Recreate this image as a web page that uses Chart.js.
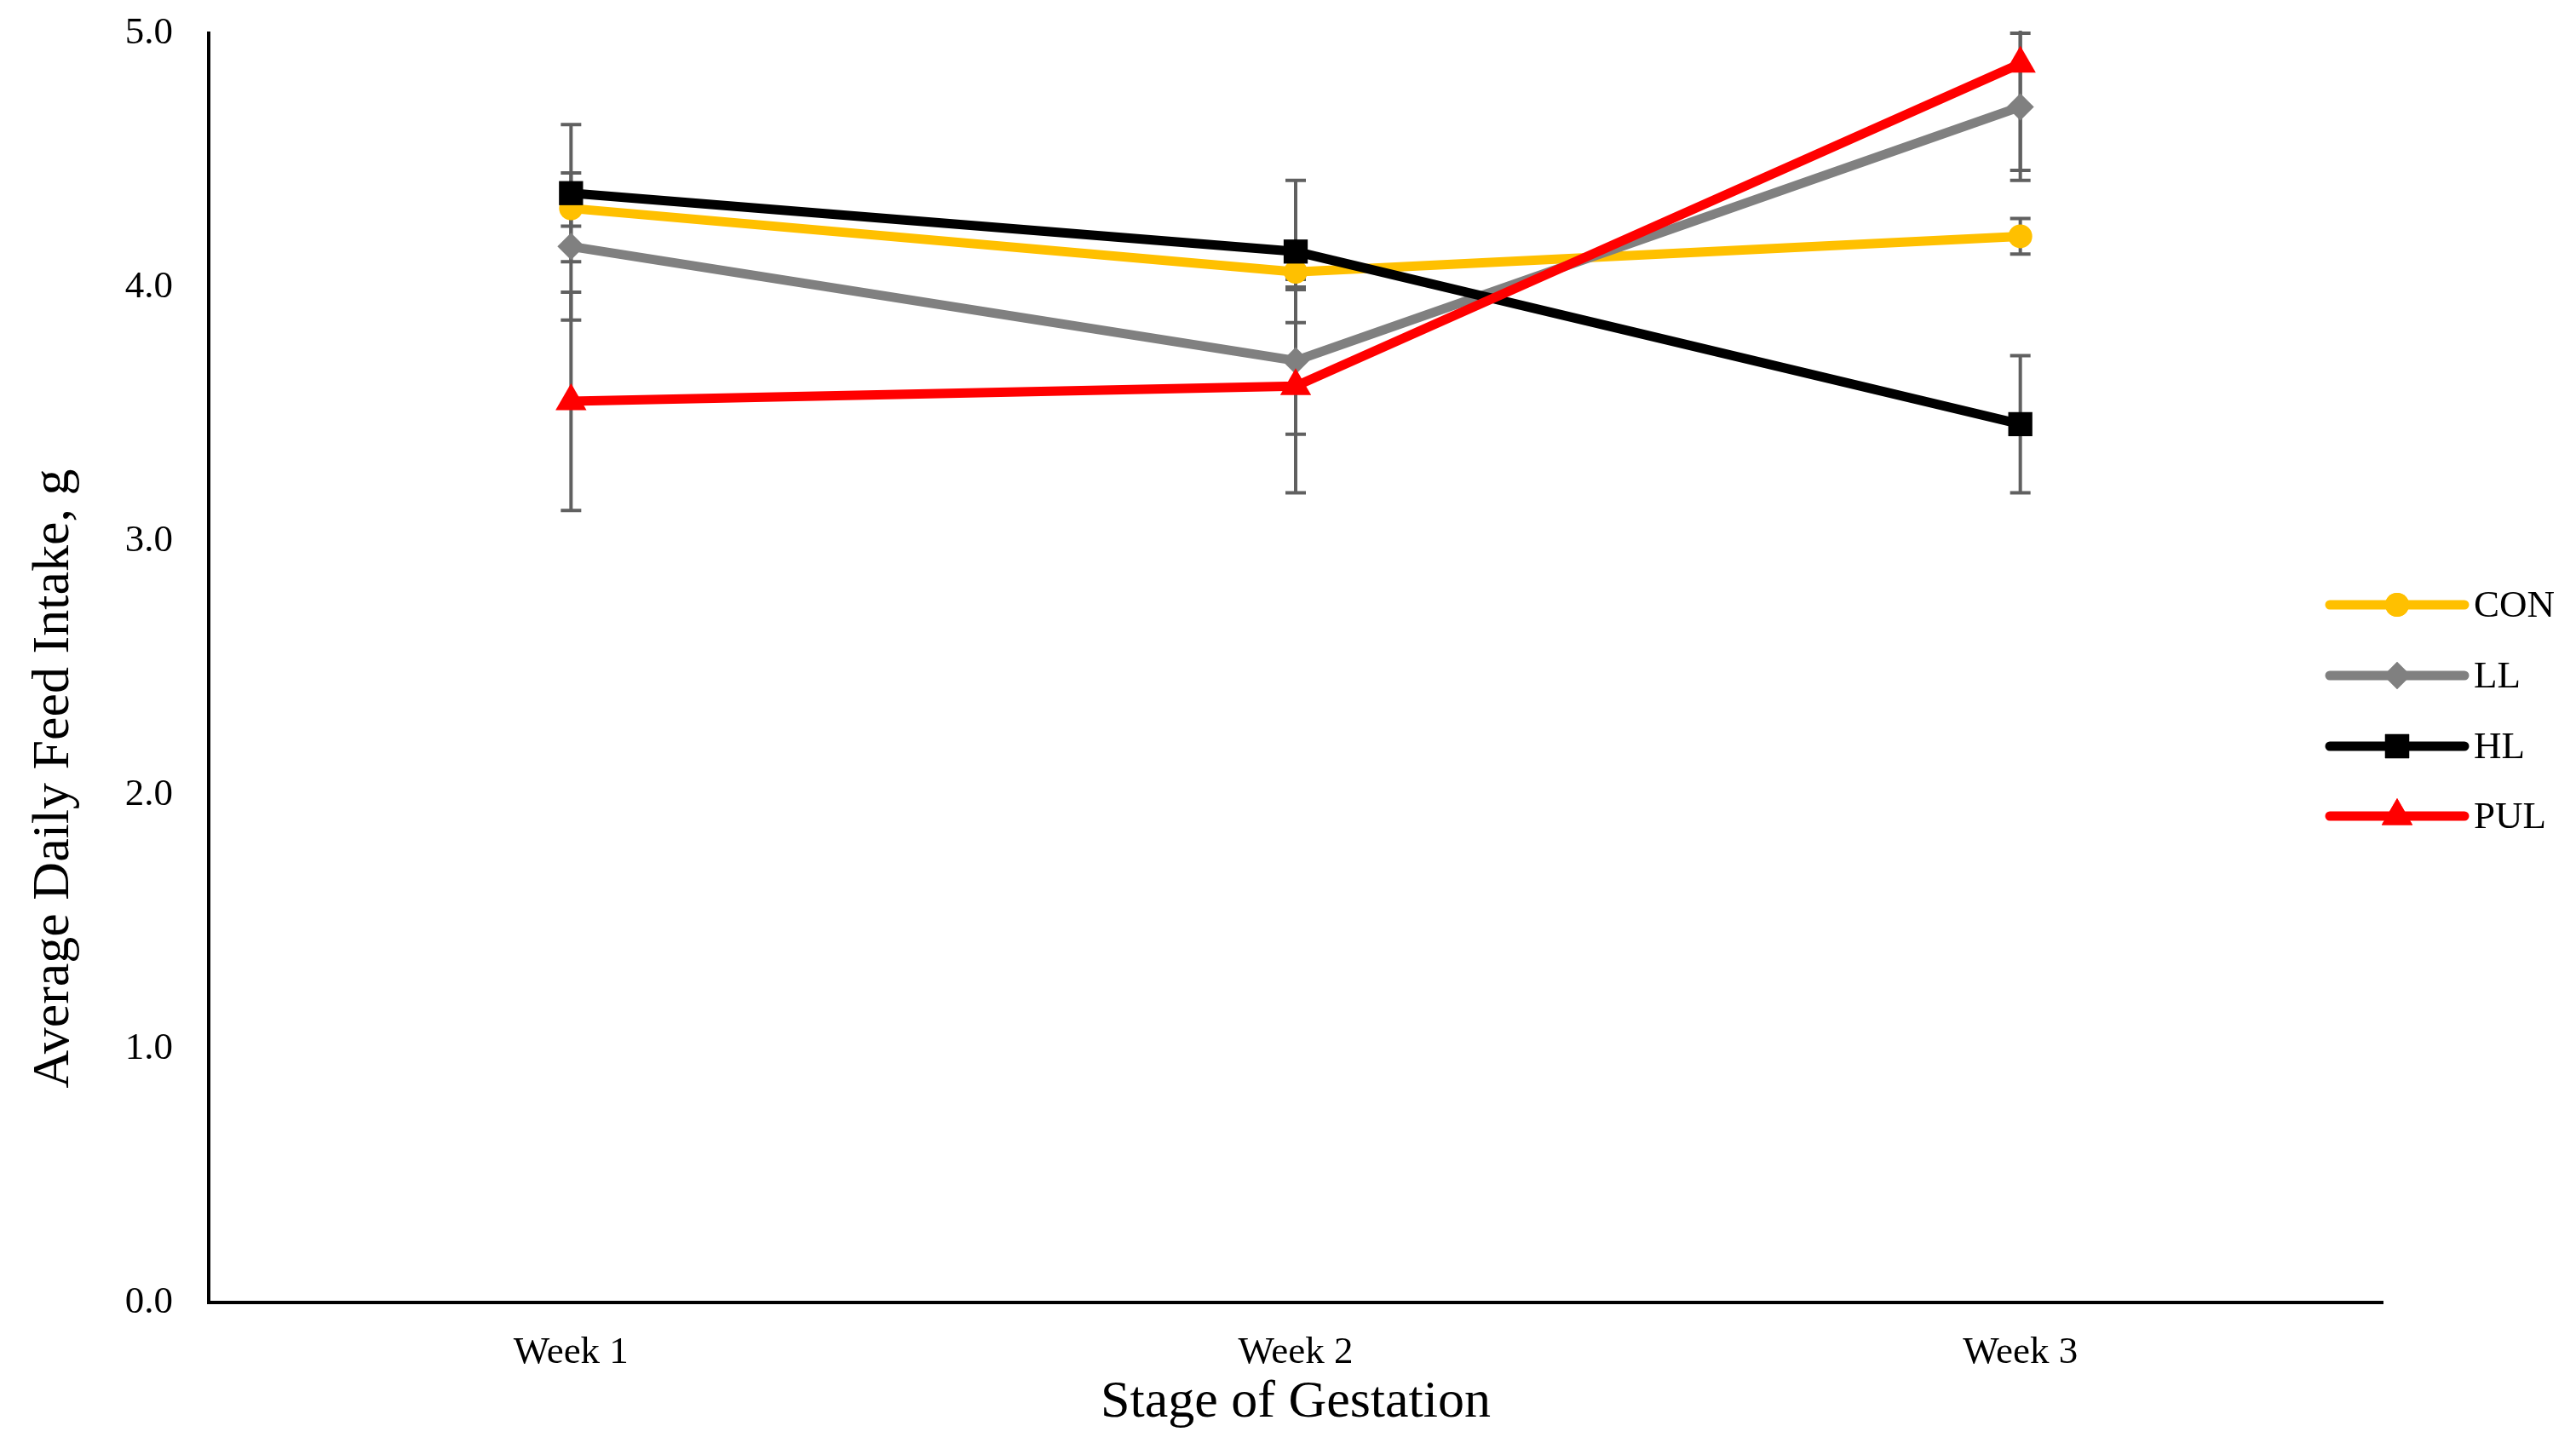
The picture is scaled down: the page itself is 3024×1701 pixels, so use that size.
<!DOCTYPE html>
<html>
<head>
<meta charset="utf-8">
<script src="https://cdn.jsdelivr.net/npm/chart.js@4/dist/chart.umd.min.js"></script>
<style>
html,body{margin:0;padding:0;background:#fff;}
#wrap{width:3024px;height:1701px;position:relative;}
</style>
</head>
<body>
<div id="wrap"><canvas id="c" width="3024" height="1701"></canvas></div>
<script>
// ---- data ----
const categories = ['Week 1', 'Week 2', 'Week 3'];
const seriesNames = ['CON', 'LL', 'HL', 'PUL'];
const conValues = [4.31, 4.06, 4.20];
const conErr    = [0.07, 0.07, 0.07];
const llValues  = [4.16, 3.71, 4.71];
const llErr     = [0.29, 0.29, 0.29];
const hlValues  = [4.37, 4.14, 3.46];
const hlErr     = [0.27, 0.28, 0.27];
const pulValues = [3.55, 3.61, 4.88];
const pulErr    = [0.43, 0.42, 0.42];
const yMin = 0, yMax = 5, yStep = 1;
const xTitle = 'Stage of Gestation';
const yTitle = 'Average Daily Feed Intake, g';

const FONT = '"Liberation Serif", "Times New Roman", serif';
const colors = ['#FFC000', '#808080', '#000000', '#FF0000'];
const styles = ['circle', 'rectRot', 'rect', 'triangle'];
const radii  = [14, 16, 20, 21];
const values = [conValues, llValues, hlValues, pulValues];
const errs   = [conErr, llErr, hlErr, pulErr];

const datasets = seriesNames.map((n, i) => ({
  label: n,
  data: values[i],
  errors: errs[i],
  borderColor: colors[i],
  backgroundColor: colors[i],
  pointBackgroundColor: colors[i],
  pointBorderColor: colors[i],
  pointBorderWidth: 0,
  pointStyle: styles[i],
  pointRadius: radii[i],
  pointHoverRadius: radii[i],
  borderWidth: 11,
  tension: 0,
  fill: false,
  order: 4 - i
}));

const errorBars = {
  id: 'errorBars',
  beforeDatasetsDraw(chart) {
    const ctx = chart.ctx, xs = chart.scales.x, ys = chart.scales.y, a = chart.chartArea;
    ctx.save();
    ctx.beginPath();
    ctx.rect(a.left, a.top - 3, a.right - a.left, a.bottom - a.top + 3);
    ctx.clip();
    ctx.strokeStyle = '#606060';
    ctx.lineWidth = 4;
    chart.data.datasets.forEach(ds => {
      ds.data.forEach((v, j) => {
        const e = ds.errors[j];
        const x = xs.getPixelForValue(j);
        const yt = ys.getPixelForValue(v + e);
        const yb = ys.getPixelForValue(v - e);
        ctx.beginPath();
        ctx.moveTo(x, yt); ctx.lineTo(x, yb);
        ctx.moveTo(x - 12, yt); ctx.lineTo(x + 12, yt);
        ctx.moveTo(x - 12, yb); ctx.lineTo(x + 12, yb);
        ctx.stroke();
      });
    });
    ctx.restore();
  }
};

const customLegend = {
  id: 'customLegend',
  afterDraw(chart) {
    const ctx = chart.ctx;
    const x0 = 2735, x1 = 2893, tx = 2904;
    const ys = [710, 793, 876, 958];
    ctx.save();
    chart.data.datasets.forEach((ds, i) => {
      const y = ys[i];
      ctx.strokeStyle = ds.borderColor;
      ctx.lineWidth = 11;
      ctx.lineCap = 'round';
      ctx.beginPath(); ctx.moveTo(x0, y); ctx.lineTo(x1, y); ctx.stroke();
      ctx.fillStyle = ds.backgroundColor;
      Chart.helpers.drawPoint(ctx, {pointStyle: ds.pointStyle, radius: ds.pointRadius, borderWidth: 0, rotation: 0}, (x0 + x1) / 2, y);
      ctx.fill();
      ctx.fillStyle = '#000';
      ctx.font = '45px ' + FONT;
      ctx.textAlign = 'left';
      ctx.textBaseline = 'middle';
      ctx.fillText(ds.label, tx, y + 2);
    });
    // y axis title
    ctx.translate(64, 914);
    ctx.rotate(-Math.PI / 2);
    ctx.font = '62px ' + FONT;
    ctx.textAlign = 'center';
    ctx.textBaseline = 'middle';
    ctx.fillStyle = '#000';
    ctx.fillText(yTitle, 0, 0);
    ctx.restore();
  }
};

new Chart(document.getElementById('c'), {
  type: 'line',
  data: { labels: categories, datasets },
  options: {
    responsive: false,
    animation: false,
    devicePixelRatio: 1,
    layout: { padding: { top: 39, right: 227, left: 0, bottom: 0 } },
    plugins: { legend: { display: false }, tooltip: { enabled: false } },
    scales: {
      x: {
        type: 'category',
        offset: true,
        grid: { display: false, drawTicks: false },
        border: { display: true, color: '#000', width: 4 },
        ticks: { color: '#000', font: { family: FONT, size: 45 }, padding: 32 },
        title: { display: true, text: xTitle, color: '#000', font: { family: FONT, size: 62 }, padding: { top: 0, bottom: 17 } },
        afterFit(s) { s.height = 172; s.paddingLeft = 0; s.paddingRight = 0; }
      },
      y: {
        min: yMin, max: yMax,
        grid: { display: false, drawTicks: false },
        border: { display: true, color: '#000', width: 4 },
        ticks: { stepSize: yStep, color: '#000', font: { family: FONT, size: 45 }, padding: 42,
                 callback: v => Number(v).toFixed(1) },
        afterFit(s) { s.width = 245; s.paddingTop = 0; s.paddingBottom = 0; }
      }
    }
  },
  plugins: [errorBars, customLegend]
});
</script>
</body>
</html>
